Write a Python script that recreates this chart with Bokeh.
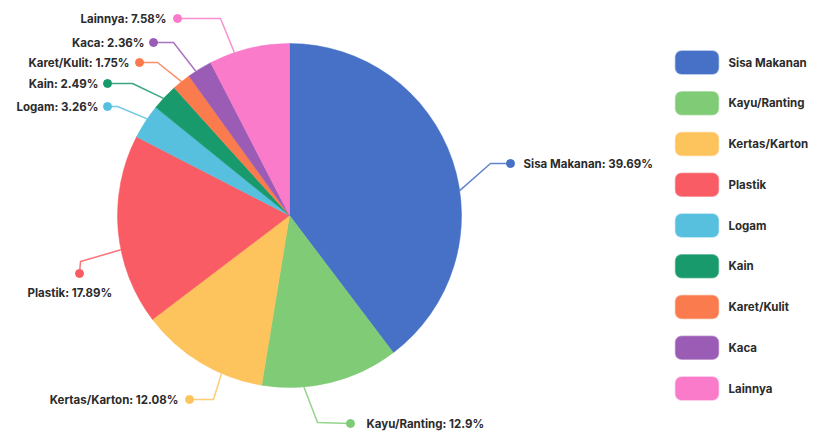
import math
from bokeh.plotting import figure
from bokeh.models import ColumnDataSource, Range1d, BoxAnnotation
from bokeh.core.properties import value
from bokeh.embed import file_html
from bokeh.resources import INLINE

# ---------------- data ----------------
categories = ["Sisa Makanan", "Kayu/Ranting", "Kertas/Karton", "Plastik", "Logam",
              "Kain", "Karet/Kulit", "Kaca", "Lainnya"]
percentages = [39.69, 12.9, 12.08, 17.89, 3.26, 2.49, 1.75, 2.36, 7.58]
colors = ["#4671C6", "#80CB76", "#FDC35D", "#F95C64", "#58C0DF",
          "#189A6C", "#FA7B4D", "#9B5CB5", "#F97BC9"]

# ---------------- layout (pixel space, y measured from top) ----------------
W, H = 814, 432
CX, CY, R = 289, 215, 172
leader_start_deg = [81.7, 175.2, 203.3, 258.5, 304.2, 312.9, 321.1, 327.0, 341.3]
leader_elbow = [(490, 163), (317, 422), (213, 399), (80, 261), (117, 106),
                (132, 83), (157, 62), (173, 42), (220, 18)]
leader_dot = [(510, 163), (350, 423), (189, 399), (79, 273), (107, 106),
              (107, 83), (139, 62), (153, 42), (177, 18)]
label_pos = [(523, 163, "left"), (366, 423, "left"), (178, 399, "right"),
             (27, 292, "left"), (98, 106, "right"), (98, 83, "right"),
             (129, 62, "right"), (144, 42, "right"), (166, 18, "right")]
legend_x0, legend_x1 = 675, 718
legend_y0, legend_step, legend_h = 62, 40.75, 23
legend_text_x = 728
FONT = "Inter"
FONT_SIZE = "11.5px"
TEXT_COLOR = "#2b2b2b"


def fy(y):
    return H - y


p = figure(width=W, height=H, x_range=Range1d(0, W), y_range=Range1d(0, H),
           output_backend="svg", toolbar_location=None,
           x_axis_type=None, y_axis_type=None, min_border=0)
p.grid.visible = False
p.outline_line_color = None
p.background_fill_color = "white"
p.border_fill_color = "white"

# wedges (clockwise from 12 o'clock)
total = sum(percentages)
starts, ends = [], []
cum = 0.0
for v in percentages:
    a0 = cum / total * 2 * math.pi
    cum += v
    a1 = cum / total * 2 * math.pi
    starts.append(math.pi / 2 - a0)
    ends.append(math.pi / 2 - a1)

wsrc = ColumnDataSource(dict(start=starts, end=ends, color=colors))
p.wedge(x=CX, y=fy(CY), radius=R, start_angle="start", end_angle="end",
        direction="clock", fill_color="color", line_color="color", line_width=0.5,
        source=wsrc)

# leader lines
xs, ys = [], []
for deg, (ex, ey), (dx, dy) in zip(leader_start_deg, leader_elbow, leader_dot):
    t = math.radians(deg)
    sx = CX + R * math.sin(t)
    sy = CY - R * math.cos(t)
    xs.append([sx, ex, dx])
    ys.append([fy(sy), fy(ey), fy(dy)])
p.multi_line(xs=xs, ys=ys, line_color=colors, line_width=1.5, line_alpha=0.85)
p.scatter(x=[d[0] for d in leader_dot], y=[fy(d[1]) for d in leader_dot],
          size=8, fill_color=colors, line_color=colors)

# labels
for name, v, (lx, ly, al) in zip(categories, percentages, label_pos):
    p.text(x=[lx], y=[fy(ly)], text=[f"{name}: {v:g}%"], text_align=al,
           text_baseline="middle", text_font=value(FONT), text_font_size=FONT_SIZE,
           text_color=TEXT_COLOR, text_font_style="bold")

# legend
for i, (name, c) in enumerate(zip(categories, colors)):
    yc = legend_y0 + i * legend_step
    p.add_layout(BoxAnnotation(left=legend_x0, right=legend_x1,
                               top=fy(yc - legend_h / 2), bottom=fy(yc + legend_h / 2),
                               fill_color=c, fill_alpha=1.0, line_color=c,
                               line_alpha=0.5, line_width=1.5, border_radius=6))
    p.text(x=[legend_text_x], y=[fy(yc)], text=[name], text_align="left",
           text_baseline="middle", text_font=value(FONT), text_font_size=FONT_SIZE,
           text_color=TEXT_COLOR, text_font_style="bold")

open("out.html", "w").write(file_html(p, INLINE))
